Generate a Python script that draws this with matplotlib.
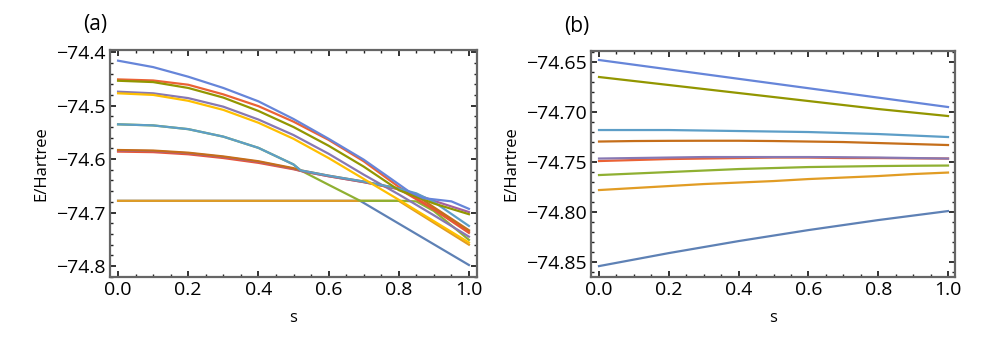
import numpy as np
import matplotlib
matplotlib.use("Agg")
import matplotlib.pyplot as plt
from matplotlib.ticker import MultipleLocator, FuncFormatter

plt.rcParams['font.family'] = ['Open Sans', 'DejaVu Sans']

# Mathematica default palette
c_blue = "#5E81B5"
c_orange = "#E19C24"
c_green = "#8FB032"
c_red = "#EB6235"
c_purple = "#8778B3"
c_dorange = "#C56E1A"
c_lblue = "#5D9EC7"
c_yellow = "#FFBF00"
c_magenta = "#A5609D"
c_olive = "#929600"
c_red2 = "#E95536"
c_slate = "#6685D9"

# ---------------- panel (a) data ----------------
a_blue_s = [0.0, 0.69, 1.0]
a_blue_E = [-74.678, -74.678, -74.798]

a_orange_s = [0.0, 0.80, 0.9, 1.0]
a_orange_E = [-74.678, -74.678, -74.719, -74.760]

a_green_s = [0.0, 0.1, 0.2, 0.3, 0.4, 0.5, 0.52, 0.6, 0.69, 0.8, 0.85, 0.9, 1.0]
a_green_E = [-74.535, -74.537, -74.544, -74.558, -74.579, -74.610, -74.621,
             -74.648, -74.678, -74.678, -74.679, -74.697, -74.751]

a_red_s = [0.0, 0.1, 0.2, 0.3, 0.4, 0.5, 0.6, 0.7, 0.8, 0.9, 1.0]
a_red_E = [-74.451, -74.453, -74.461, -74.479, -74.501, -74.530, -74.564,
           -74.604, -74.652, -74.694, -74.735]

a_purple_s = [0.0, 0.1, 0.2, 0.3, 0.4, 0.5, 0.6, 0.7, 0.8, 0.9, 1.0]
a_purple_E = [-74.474, -74.477, -74.486, -74.502, -74.526, -74.555, -74.590,
              -74.629, -74.666, -74.705, -74.745]

a_dorange_s = [0.0, 0.1, 0.2, 0.3, 0.4, 0.5, 0.52, 0.6, 0.7, 0.8, 0.85, 0.9, 1.0]
a_dorange_E = [-74.583, -74.584, -74.588, -74.595, -74.604, -74.617, -74.621,
               -74.631, -74.642, -74.655, -74.668, -74.690, -74.733]

a_lblue_s = [0.0, 0.1, 0.2, 0.3, 0.4, 0.5, 0.52, 0.6, 0.7, 0.8, 0.85, 0.9, 1.0]
a_lblue_E = [-74.535, -74.537, -74.544, -74.558, -74.579, -74.610, -74.621,
             -74.631, -74.642, -74.655, -74.664, -74.680, -74.725]

a_yellow_s = [0.0, 0.1, 0.2, 0.3, 0.4, 0.5, 0.6, 0.7, 0.8, 0.9, 1.0]
a_yellow_E = [-74.477, -74.480, -74.491, -74.508, -74.532, -74.562, -74.598,
              -74.637, -74.676, -74.716, -74.756]

a_magenta_s = [0.0, 0.1, 0.2, 0.3, 0.4, 0.5, 0.52, 0.6, 0.7, 0.8, 0.85, 0.9, 1.0]
a_magenta_E = [-74.584, -74.585, -74.589, -74.596, -74.605, -74.618, -74.622,
               -74.632, -74.643, -74.656, -74.666, -74.678, -74.699]

a_olive_s = [0.0, 0.1, 0.2, 0.3, 0.4, 0.5, 0.6, 0.7, 0.8, 0.9, 1.0]
a_olive_E = [-74.4535, -74.456, -74.467, -74.485, -74.510, -74.540, -74.575,
             -74.614, -74.658, -74.683, -74.703]

a_red2_s = [0.0, 0.1, 0.2, 0.3, 0.4, 0.5, 0.52, 0.6, 0.7, 0.8, 0.9, 1.0]
a_red2_E = [-74.586, -74.587, -74.591, -74.598, -74.607, -74.619, -74.622,
            -74.632, -74.643, -74.656, -74.694, -74.738]

a_slate_s = [0.0, 0.1, 0.2, 0.3, 0.4, 0.5, 0.6, 0.7, 0.8, 0.83, 0.87, 0.95, 1.0]
a_slate_E = [-74.416, -74.428, -74.446, -74.467, -74.492, -74.525, -74.562,
             -74.601, -74.647, -74.661, -74.673, -74.679, -74.693]

# ---------------- panel (b) data ----------------
b_s = [0.0, 0.1, 0.2, 0.3, 0.4, 0.5, 0.6, 0.7, 0.8, 0.9, 1.0]
b_blue = [-74.854, -74.8475, -74.841, -74.835, -74.829, -74.8235, -74.818,
          -74.813, -74.808, -74.8035, -74.799]
b_orange = [-74.778, -74.776, -74.774, -74.772, -74.7705, -74.769, -74.767,
            -74.7655, -74.764, -74.762, -74.7605]
b_green = [-74.763, -74.7615, -74.760, -74.7585, -74.757, -74.756, -74.755,
           -74.7545, -74.754, -74.7537, -74.7535]
b_red = [-74.749, -74.748, -74.747, -74.7465, -74.746, -74.7455, -74.7455,
         -74.746, -74.746, -74.7463, -74.7465]
b_purple = [-74.7465, -74.746, -74.7455, -74.745, -74.745, -74.745, -74.745,
            -74.7452, -74.7455, -74.746, -74.7465]
b_dorange = [-74.7295, -74.729, -74.7288, -74.7287, -74.7287, -74.729,
             -74.7295, -74.730, -74.731, -74.732, -74.733]
b_lblue = [-74.718, -74.718, -74.718, -74.7185, -74.719, -74.7195, -74.720,
           -74.721, -74.722, -74.7235, -74.725]
b_olive = [-74.665, -74.669, -74.673, -74.677, -74.681, -74.685, -74.689,
           -74.693, -74.697, -74.7005, -74.704]
b_slate = [-74.648, -74.6527, -74.6574, -74.6621, -74.6668, -74.6715,
           -74.6762, -74.6809, -74.6856, -74.6903, -74.695]

fig = plt.figure(figsize=(10, 3.4), dpi=100)
axa = fig.add_axes([0.110, 0.185, 0.367, 0.668])
axb = fig.add_axes([0.591, 0.185, 0.364, 0.665])

lw = 1.6
# red2 and magenta go under the dark orange one, as in the original
for s, e, c in [(a_blue_s, a_blue_E, c_blue), (a_orange_s, a_orange_E, c_orange),
                (a_green_s, a_green_E, c_green), (a_red_s, a_red_E, c_red),
                (a_purple_s, a_purple_E, c_purple), (a_red2_s, a_red2_E, c_red2),
                (a_magenta_s, a_magenta_E, c_magenta),
                (a_dorange_s, a_dorange_E, c_dorange),
                (a_lblue_s, a_lblue_E, c_lblue),
                (a_yellow_s, a_yellow_E, c_yellow), (a_olive_s, a_olive_E, c_olive),
                (a_slate_s, a_slate_E, c_slate)]:
    axa.plot(s, e, color=c, lw=lw)

for e, c in [(b_blue, c_blue), (b_orange, c_orange), (b_green, c_green),
             (b_red, c_red), (b_purple, c_purple), (b_dorange, c_dorange),
             (b_lblue, c_lblue), (b_olive, c_olive), (b_slate, c_slate)]:
    axb.plot(b_s, e, color=c, lw=lw)


def fmt(nd):
    return FuncFormatter(lambda v, p: ("%.*f" % (nd, v)).replace("-", "\u2212"))


axa.set_xlim(-0.023, 1.023)
axa.set_ylim(-74.8206, -74.396)
axa.yaxis.set_major_locator(MultipleLocator(0.1))
axa.yaxis.set_minor_locator(MultipleLocator(0.02))
axa.yaxis.set_major_formatter(fmt(1))

axb.set_xlim(-0.023, 1.02)
axb.set_ylim(-74.865, -74.639)
axb.yaxis.set_major_locator(MultipleLocator(0.05))
axb.yaxis.set_minor_locator(MultipleLocator(0.01))
axb.yaxis.set_major_formatter(fmt(2))

for ax, lab in [(axa, "(a)"), (axb, "(b)")]:
    ax.xaxis.set_major_locator(MultipleLocator(0.2))
    ax.xaxis.set_minor_locator(MultipleLocator(0.05))
    ax.xaxis.set_major_formatter(fmt(1))
    ax.tick_params(which='both', direction='in', top=True, right=True,
                   color='#222222', labelsize=14, pad=3)
    ax.tick_params(which='major', length=4, width=1.3)
    ax.tick_params(which='minor', length=2, width=1.0)
    for sp in ax.spines.values():
        sp.set_color('#666666')
        sp.set_linewidth(1.6)
    ax.set_xlabel("s", fontsize=12, labelpad=8)
    ax.set_ylabel("E/Hartree", fontsize=12, labelpad=5)
    ax.text(-0.04, 1.11, lab, transform=ax.transAxes, fontsize=15,
            ha='center', va='center')

fig.savefig("out.png", dpi=100)
